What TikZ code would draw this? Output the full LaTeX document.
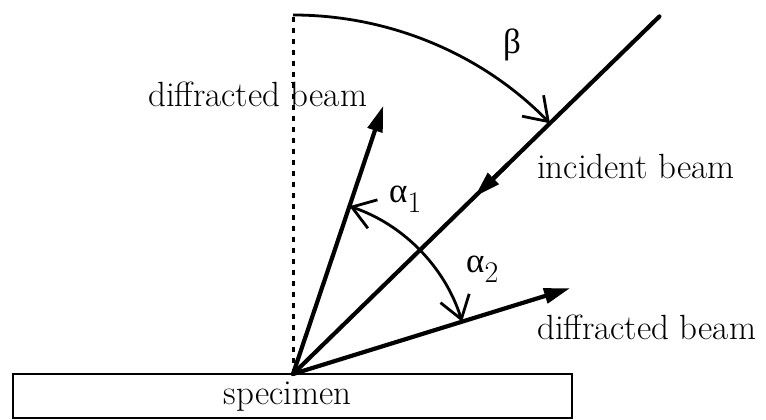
\documentclass[tikz,border=0pt]{standalone}
\usepackage{fontspec}
\newfontfamily\grkfont{Liberation Serif}
\usetikzlibrary{arrows.meta,calc}
\begin{document}
\begin{tikzpicture}[x=1pt,y=1pt,
  beam/.style={line width=4.2pt,line cap=round},
  anglearc/.style={line width=2.8pt},
  barb/.tip={Straight Barb[length=22pt,width=30pt,line width=2.8pt]},
  tri/.tip={Triangle[length=26pt,width=15pt]},
  lbl/.style={font=\fontsize{35}{40}\selectfont,inner sep=0pt},
  greek/.style={font=\fontsize{35}{40}\selectfont\grkfont,inner sep=0pt}]
\useasboundingbox (0,0) rectangle (766,420);
% origin on specimen surface
\coordinate (O) at (293,46);
% specimen
\draw[line width=2.8pt] (13,2) rectangle (572,46);
\node[lbl,anchor=base] (spec) at (287.5,15) {specimen};
% normal (dotted)
\coordinate (N) at ($(O)+(0,359)$);
\draw[line width=3pt,dash pattern=on 5pt off 6pt] (O) -- (N);
% beams
\coordinate (I) at ($(O)+(44.3:512)$);
\coordinate (Ia) at ($(O)+(44.3:300)$);
\coordinate (Ib) at ($(O)+(44.3:254)$);
\coordinate (D1) at ($(O)+(71.4:283)$);
\coordinate (D2) at ($(O)+(17.2:290)$);
\draw[beam] (O) -- (I);
\draw[beam,-tri] (Ia) -- (Ib);
\draw[beam,-tri] (O) -- (D1);
\draw[beam,-tri] (O) -- (D2);
% angle arcs
\draw[anglearc,-barb] (N) arc[start angle=90,end angle=44.3,radius=359];
\coordinate (A1) at ($(O)+(71.4:177)$);
\draw[anglearc,barb-barb] (A1) arc[start angle=71.4,end angle=17.2,radius=177];
% labels
\node[lbl,anchor=base west] (ld1) at (148,313) {diffracted beam};
\node[lbl,anchor=base west] (linc) at (537,241) {incident beam};
\node[lbl,anchor=base west] (ld2) at (537,80) {diffracted beam};
\node[greek,anchor=base] (beta) at (512,366) {β};
\node[greek,anchor=base west] (a1) at (389,217) {α\raisebox{-10pt}{\fontsize{30}{32}\selectfont\rmfamily 1}};
\node[greek,anchor=base west] (a2) at (466,147) {α\raisebox{-10pt}{\fontsize{30}{32}\selectfont\rmfamily 2}};
\end{tikzpicture}
\end{document}
